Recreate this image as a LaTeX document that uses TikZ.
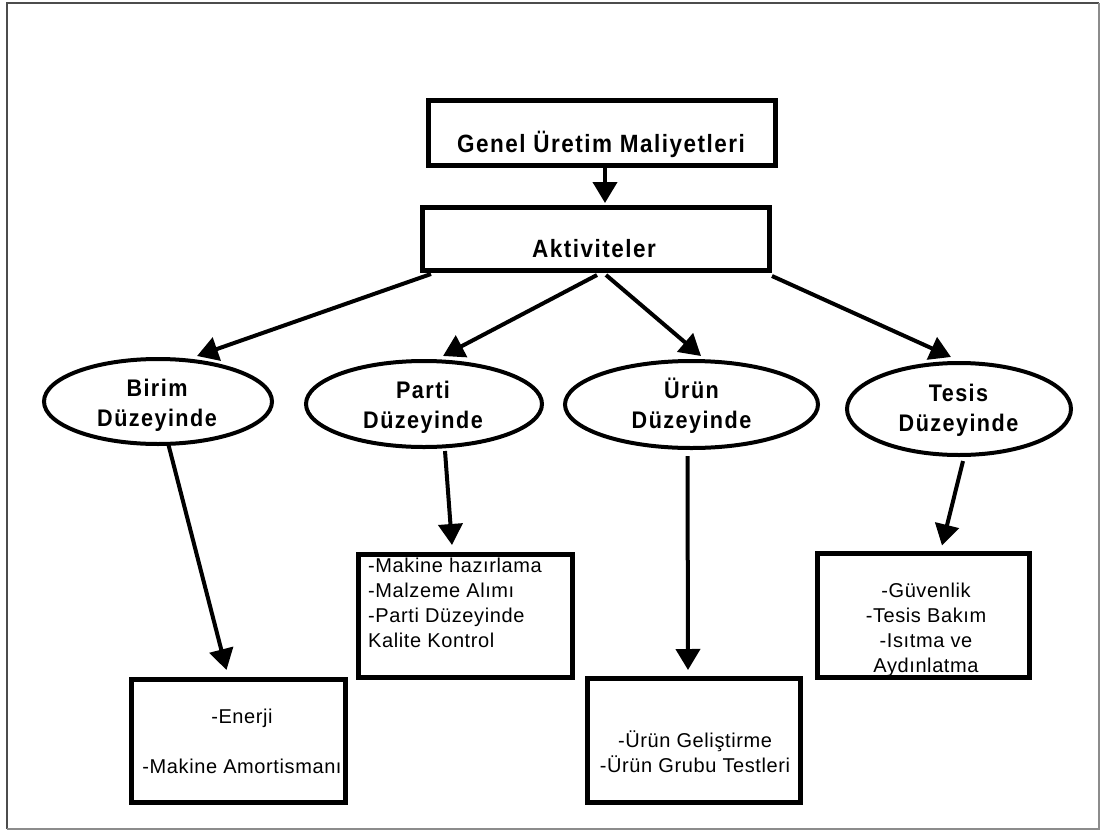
\documentclass[tikz,border=0pt]{standalone}
\usepackage{fontspec}
\setmainfont{Liberation Sans}
\usetikzlibrary{arrows.meta,shapes.geometric,calc}
% stacked lines, centred or flush left; the box baseline is that of the first line
\newcommand\linesc[1]{\vtop{\halign{\hfil##\hfil\cr#1\crcr}}}
\newcommand\linesl[1]{\vtop{\halign{##\hfil\cr#1\crcr}}}

\begin{document}
\begin{tikzpicture}[x=1pt,y=-1pt,
  box/.style={draw,rectangle,line width=5pt,inner sep=0pt},
  oval/.style={draw,ellipse,line width=4pt,inner sep=0pt},
  conn/.style={line width=4pt,-{Triangle[length=21pt,width=24pt]}},
  txt/.style={inner sep=0pt,anchor=base},
  bigtxt/.style={txt,font=\fontsize{25}{30}\selectfont\bfseries\addfontfeature{FakeStretch=0.9,LetterSpace=6}},
  ovtxt/.style={txt,font=\fontsize{24}{30}\selectfont\bfseries\addfontfeature{FakeStretch=0.9,LetterSpace=6}},
  listtxt/.style={txt,font=\fontsize{20}{25}\selectfont\addfontfeature{LetterSpace=3}},
]
\useasboundingbox (0,0) rectangle (1101,833);

% page frame
\draw[black!70,line width=1.3pt] (7,829) -- (7,3) -- (1099,3);
\draw[black!45,line width=1.3pt] (1099,3) -- (1099,829) -- (7,829);

% top level
\node[box,minimum width=347pt,minimum height=65pt] (gum) at (602,133) {};
\node[bigtxt] (gumtxt) at (601,152) {Genel Üretim Maliyetleri};
\node[box,minimum width=347pt,minimum height=63pt] (akt) at (596,239) {};
\node[bigtxt] (akttxt) at (594,257.5) {Aktiviteler};

% activity levels
\node[oval,minimum width=228pt,minimum height=85pt] (birim) at (158,401.5) {};
\node[ovtxt] (birimtxt) at (157,396) {\linesc{Birim\cr Düzeyinde}};
\node[oval,minimum width=236pt,minimum height=86pt] (parti) at (424,404) {};
\node[ovtxt] (partitxt) at (423,398) {\linesc{Parti\cr Düzeyinde}};
\node[oval,minimum width=253pt,minimum height=87pt] (urun) at (691.5,404.5) {};
\node[ovtxt] (uruntxt) at (691.5,398.5) {\linesc{Ürün\cr Düzeyinde}};
\node[oval,minimum width=224pt,minimum height=92pt] (tesis) at (959,409) {};
\node[ovtxt] (tesistxt) at (958.5,401.5) {\linesc{Tesis\cr Düzeyinde}};

% cost items
\node[box,minimum width=214pt,minimum height=123pt] (bbox) at (238.5,741) {};
\node[listtxt] (btxt) at (242,723) {\linesc{-Enerji\cr\cr -Makine Amortismanı}};
\node[box,minimum width=214pt,minimum height=123pt] (pbox) at (465.5,616) {};
\node[listtxt,anchor=base west] (ptxt) at (368,572) {\linesl{-Makine hazırlama\cr -Malzeme Alımı\cr -Parti Düzeyinde\cr Kalite Kontrol}};
\node[box,minimum width=213pt,minimum height=124pt] (ubox) at (694,740.5) {};
\node[listtxt] (utxt) at (695,747) {\linesc{-Ürün Geliştirme\cr -Ürün Grubu Testleri}};
\node[box,minimum width=212pt,minimum height=124pt] (tbox) at (923.5,615.5) {};
\node[listtxt] (ttxt) at (926,597) {\linesc{-Güvenlik\cr -Tesis Bakım\cr -Isıtma ve\cr Aydınlatma}};

% connectors
\draw[conn] ($(gum.south)+(3,0)$) -- ($(akt.north)+(9,-2)$);
\draw[conn] ($(akt.south west)+(11,1)$) -- ($(birim.north)+(39,-1)$);
\draw[conn] ($(akt.south)+(1,2)$) -- ($(parti.north)+(19,-3)$);
\draw[conn] ($(akt.south)+(10,2)$) -- ($(urun.north)+(9.5,-3)$);
\draw[conn] ($(akt.south east)+(0,3)$) -- ($(tesis.north)+(-8,-4)$);

\draw[conn] ($(birim.south)+(10,-3)$) -- ($(bbox.north)+(-12,-7)$);
\draw[conn] ($(parti.south)+(21,2)$) -- ($(pbox.north)+(-13.5,-7)$);
\draw[conn] ($(urun.south)+(-4,6)$) -- ($(ubox.north)+(-6,-6)$);
\draw[conn] ($(tesis.south)+(4,4)$) -- ($(tbox.north)+(18.5,-5.5)$);
\end{tikzpicture}
\end{document}
